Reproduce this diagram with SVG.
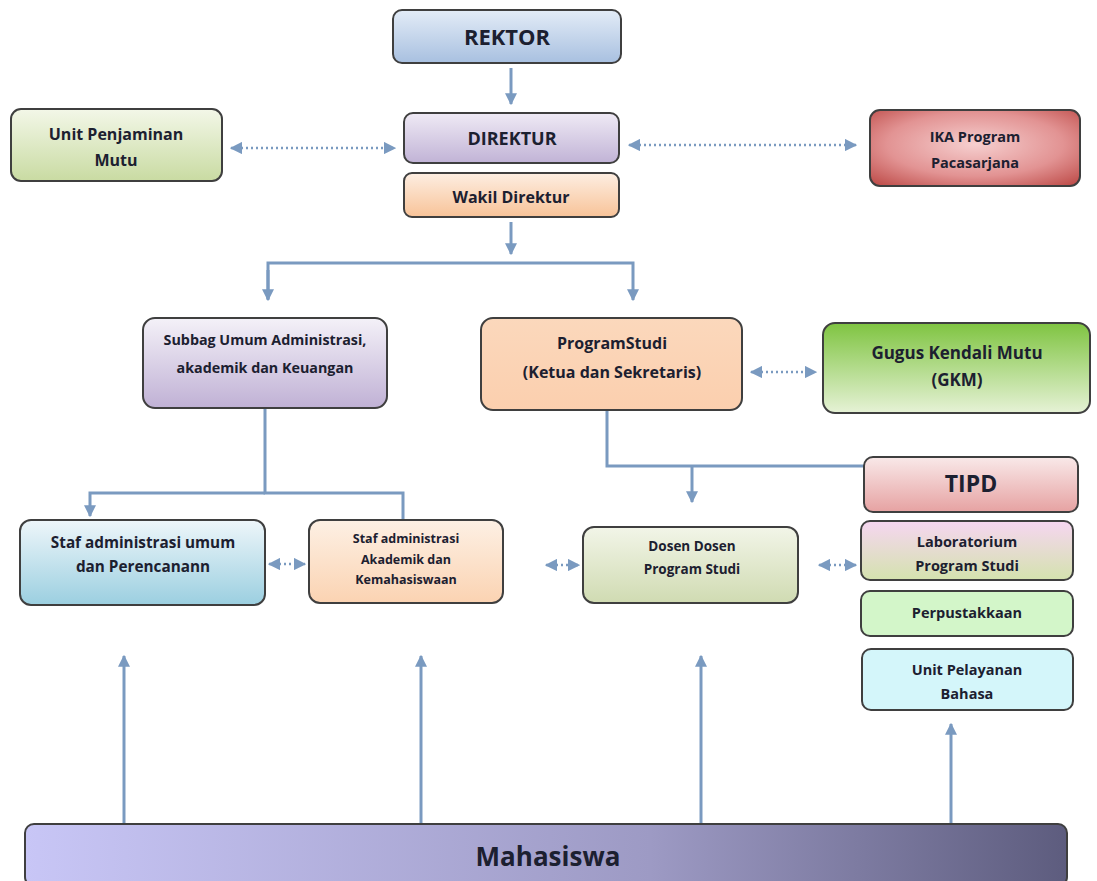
<svg xmlns="http://www.w3.org/2000/svg" width="1097" height="881" viewBox="0 0 1097 881">
<defs>
<linearGradient id="gRek" x1="0" y1="0" x2="0" y2="1"><stop offset="0" stop-color="#e3ecf7"/><stop offset="1" stop-color="#a8c0e0"/></linearGradient>
<linearGradient id="gDir" x1="0" y1="0" x2="0" y2="1"><stop offset="0" stop-color="#efeaf5"/><stop offset="1" stop-color="#c1b3d6"/></linearGradient>
<linearGradient id="gWak" x1="0" y1="0" x2="0" y2="1"><stop offset="0" stop-color="#fdeee2"/><stop offset="1" stop-color="#f8c398"/></linearGradient>
<linearGradient id="gUpm" x1="0" y1="0" x2="0" y2="1"><stop offset="0" stop-color="#f3f7e8"/><stop offset="1" stop-color="#c9dba2"/></linearGradient>
<radialGradient id="gIka" cx="0.5" cy="0.45" r="0.7"><stop offset="0" stop-color="#f6cfcf"/><stop offset="0.6" stop-color="#e29393"/><stop offset="1" stop-color="#c0504d"/></radialGradient>
<linearGradient id="gSub" x1="0" y1="0" x2="0" y2="1"><stop offset="0" stop-color="#f4f1f8"/><stop offset="1" stop-color="#c0b1d5"/></linearGradient>
<linearGradient id="gPs" x1="0" y1="0" x2="0" y2="1"><stop offset="0" stop-color="#fbd8bc"/><stop offset="1" stop-color="#fbcfae"/></linearGradient>
<linearGradient id="gGkm" x1="0" y1="0" x2="0" y2="1"><stop offset="0" stop-color="#7fc441"/><stop offset="1" stop-color="#e6f2d6"/></linearGradient>
<linearGradient id="gTipd" x1="0" y1="0" x2="0" y2="1"><stop offset="0" stop-color="#f9e9e9"/><stop offset="1" stop-color="#e6a2a2"/></linearGradient>
<linearGradient id="gSu" x1="0" y1="0" x2="0" y2="1"><stop offset="0" stop-color="#eef6fa"/><stop offset="1" stop-color="#9bcfe0"/></linearGradient>
<linearGradient id="gSa" x1="0" y1="0" x2="0" y2="1"><stop offset="0" stop-color="#fdf0e4"/><stop offset="1" stop-color="#fbd3b2"/></linearGradient>
<linearGradient id="gDos" x1="0" y1="0" x2="0" y2="1"><stop offset="0" stop-color="#f2f5e8"/><stop offset="1" stop-color="#d0dbb2"/></linearGradient>
<linearGradient id="gLab" x1="0" y1="0" x2="0" y2="1"><stop offset="0" stop-color="#f6d6f1"/><stop offset="1" stop-color="#d4e2ae"/></linearGradient>
<linearGradient id="gMhs" x1="0" y1="0" x2="1" y2="0"><stop offset="0" stop-color="#c8c6f6"/><stop offset="0.6" stop-color="#9d9ac4"/><stop offset="1" stop-color="#5d5c7e"/></linearGradient>
<marker id="ah" viewBox="0 0 10 10" refX="9" refY="5" markerWidth="4" markerHeight="4" orient="auto-start-reverse"><path d="M0,0 L10,5 L0,10 z" fill="#7a9ac0"/></marker>
<marker id="ad" viewBox="0 0 10 10" refX="9" refY="5" markerWidth="5" markerHeight="5" orient="auto-start-reverse"><path d="M0,0 L10,5 L0,10 z" fill="#7a9ac0"/></marker>
</defs>
<style>
.box{stroke:#3f3f3f;stroke-width:2}
.t{font-family:"Open Sans","Liberation Sans",sans-serif;font-weight:bold;fill:#1c2030;text-anchor:middle;font-size:13px}
.c{fill:none;stroke:#7a9ac0;stroke-width:3}
.d{fill:none;stroke:#7a9ac0;stroke-width:2.5;stroke-dasharray:2 3}
</style>
<rect width="1097" height="881" fill="#ffffff"/>
<g id="connectors">
<path class="c" d="M511,68 V104" marker-end="url(#ah)"/>
<path class="c" d="M511,222 V254" marker-end="url(#ah)"/>
<path class="c" d="M268,299 V263 H633 V300" marker-end="url(#ah)"/>
<path class="c" d="M268,270 V300" marker-end="url(#ah)"/>
<path class="c" d="M265,408 V493 H403 V519"/>
<path class="c" d="M265,493 H90 V516" marker-end="url(#ah)"/>
<path class="c" d="M607,410 V466 H865"/>
<path class="c" d="M692,466 V502" marker-end="url(#ah)"/>
<path class="c" d="M124,823 V656" marker-end="url(#ah)"/>
<path class="c" d="M421,823 V656" marker-end="url(#ah)"/>
<path class="c" d="M701,823 V656" marker-end="url(#ah)"/>
<path class="c" d="M951,823 V724" marker-end="url(#ah)"/>
<path class="d" d="M231,148 H395" marker-start="url(#ad)" marker-end="url(#ad)"/>
<path class="d" d="M629,145 H856" marker-start="url(#ad)" marker-end="url(#ad)"/>
<path class="d" d="M751,372 H816" marker-start="url(#ad)" marker-end="url(#ad)"/>
<path class="d" d="M269,564 H305" marker-start="url(#ad)" marker-end="url(#ad)"/>
<path class="d" d="M546,565 H579" marker-start="url(#ad)" marker-end="url(#ad)"/>
<path class="d" d="M819,565 H856" marker-start="url(#ad)" marker-end="url(#ad)"/>
</g>
<g id="rektor"><rect class="box" x="393" y="10" width="228" height="53" rx="9" fill="url(#gRek)"/><text class="t" x="507" y="45" style="font-size:22px">REKTOR</text></g>
<g id="direktur"><rect class="box" x="404" y="113" width="215" height="50" rx="9" fill="url(#gDir)"/><text class="t" x="512" y="145" style="font-size:18px">DIREKTUR</text></g>
<g id="wakil"><rect class="box" x="404" y="173" width="215" height="44" rx="8" fill="url(#gWak)"/><text class="t" x="511" y="203" style="font-size:16px">Wakil Direktur</text></g>
<g id="upm"><rect class="box" x="11" y="109" width="211" height="72" rx="10" fill="url(#gUpm)"/><text class="t" x="116" y="140" style="font-size:16px">Unit Penjaminan</text><text class="t" x="116" y="166" style="font-size:16px">Mutu</text></g>
<g id="ika"><rect class="box" x="870" y="110" width="210" height="76" rx="10" fill="url(#gIka)"/><text class="t" x="975" y="142" style="font-size:14.5px">IKA Program</text><text class="t" x="975" y="168" style="font-size:14.5px">Pacasarjana</text></g>
<g id="subbag"><rect class="box" x="143" y="318" width="244" height="90" rx="12" fill="url(#gSub)"/><text class="t" x="265" y="345" style="font-size:14.3px">Subbag Umum Administrasi,</text><text class="t" x="265" y="373" style="font-size:14.3px">akademik dan Keuangan</text></g>
<g id="programstudi"><rect class="box" x="481" y="318" width="261" height="92" rx="12" fill="url(#gPs)"/><text class="t" x="612" y="349" style="font-size:16px">ProgramStudi</text><text class="t" x="612" y="378" style="font-size:16px">(Ketua dan Sekretaris)</text></g>
<g id="gkm"><rect class="box" x="823" y="323" width="267" height="90" rx="12" fill="url(#gGkm)"/><text class="t" x="957" y="359" style="font-size:17px">Gugus Kendali Mutu</text><text class="t" x="957" y="386" style="font-size:17px">(GKM)</text></g>
<g id="tipd"><rect class="box" x="864" y="457" width="214" height="55" rx="9" fill="url(#gTipd)"/><text class="t" x="971" y="492" style="font-size:23px">TIPD</text></g>
<g id="stafumum"><rect class="box" x="20" y="520" width="245" height="85" rx="11" fill="url(#gSu)"/><text class="t" x="143" y="548" style="font-size:15.3px">Staf administrasi umum</text><text class="t" x="143" y="572" style="font-size:15.3px">dan Perencanann</text></g>
<g id="stafakademik"><rect class="box" x="309" y="520" width="194" height="83" rx="11" fill="url(#gSa)"/><text class="t" x="406" y="543" style="font-size:12.5px">Staf administrasi</text><text class="t" x="406" y="564" style="font-size:12.5px">Akademik dan</text><text class="t" x="406" y="584" style="font-size:12.5px">Kemahasiswaan</text></g>
<g id="dosen"><rect class="box" x="583" y="527" width="215" height="76" rx="11" fill="url(#gDos)"/><text class="t" x="692" y="551" style="font-size:13.5px">Dosen Dosen</text><text class="t" x="692" y="574" style="font-size:13.5px">Program Studi</text></g>
<g id="lab"><rect class="box" x="861" y="521" width="212" height="59" rx="9" fill="url(#gLab)"/><text class="t" x="967" y="547" style="font-size:14.5px">Laboratorium</text><text class="t" x="967" y="571" style="font-size:14.5px">Program Studi</text></g>
<g id="perpus"><rect class="box" x="861" y="591" width="212" height="45" rx="9" fill="#d3f6c9"/><text class="t" x="967" y="618" style="font-size:14.5px">Perpustakkaan</text></g>
<g id="upb"><rect class="box" x="862" y="649" width="211" height="61" rx="9" fill="#d4f6fa"/><text class="t" x="967" y="675" style="font-size:14.5px">Unit Pelayanan</text><text class="t" x="967" y="699" style="font-size:14.5px">Bahasa</text></g>
<g id="mahasiswa"><rect class="box" x="25" y="824" width="1042" height="62" rx="9" fill="url(#gMhs)"/><text class="t" x="548" y="866" style="font-size:26px">Mahasiswa</text></g>
</svg>
